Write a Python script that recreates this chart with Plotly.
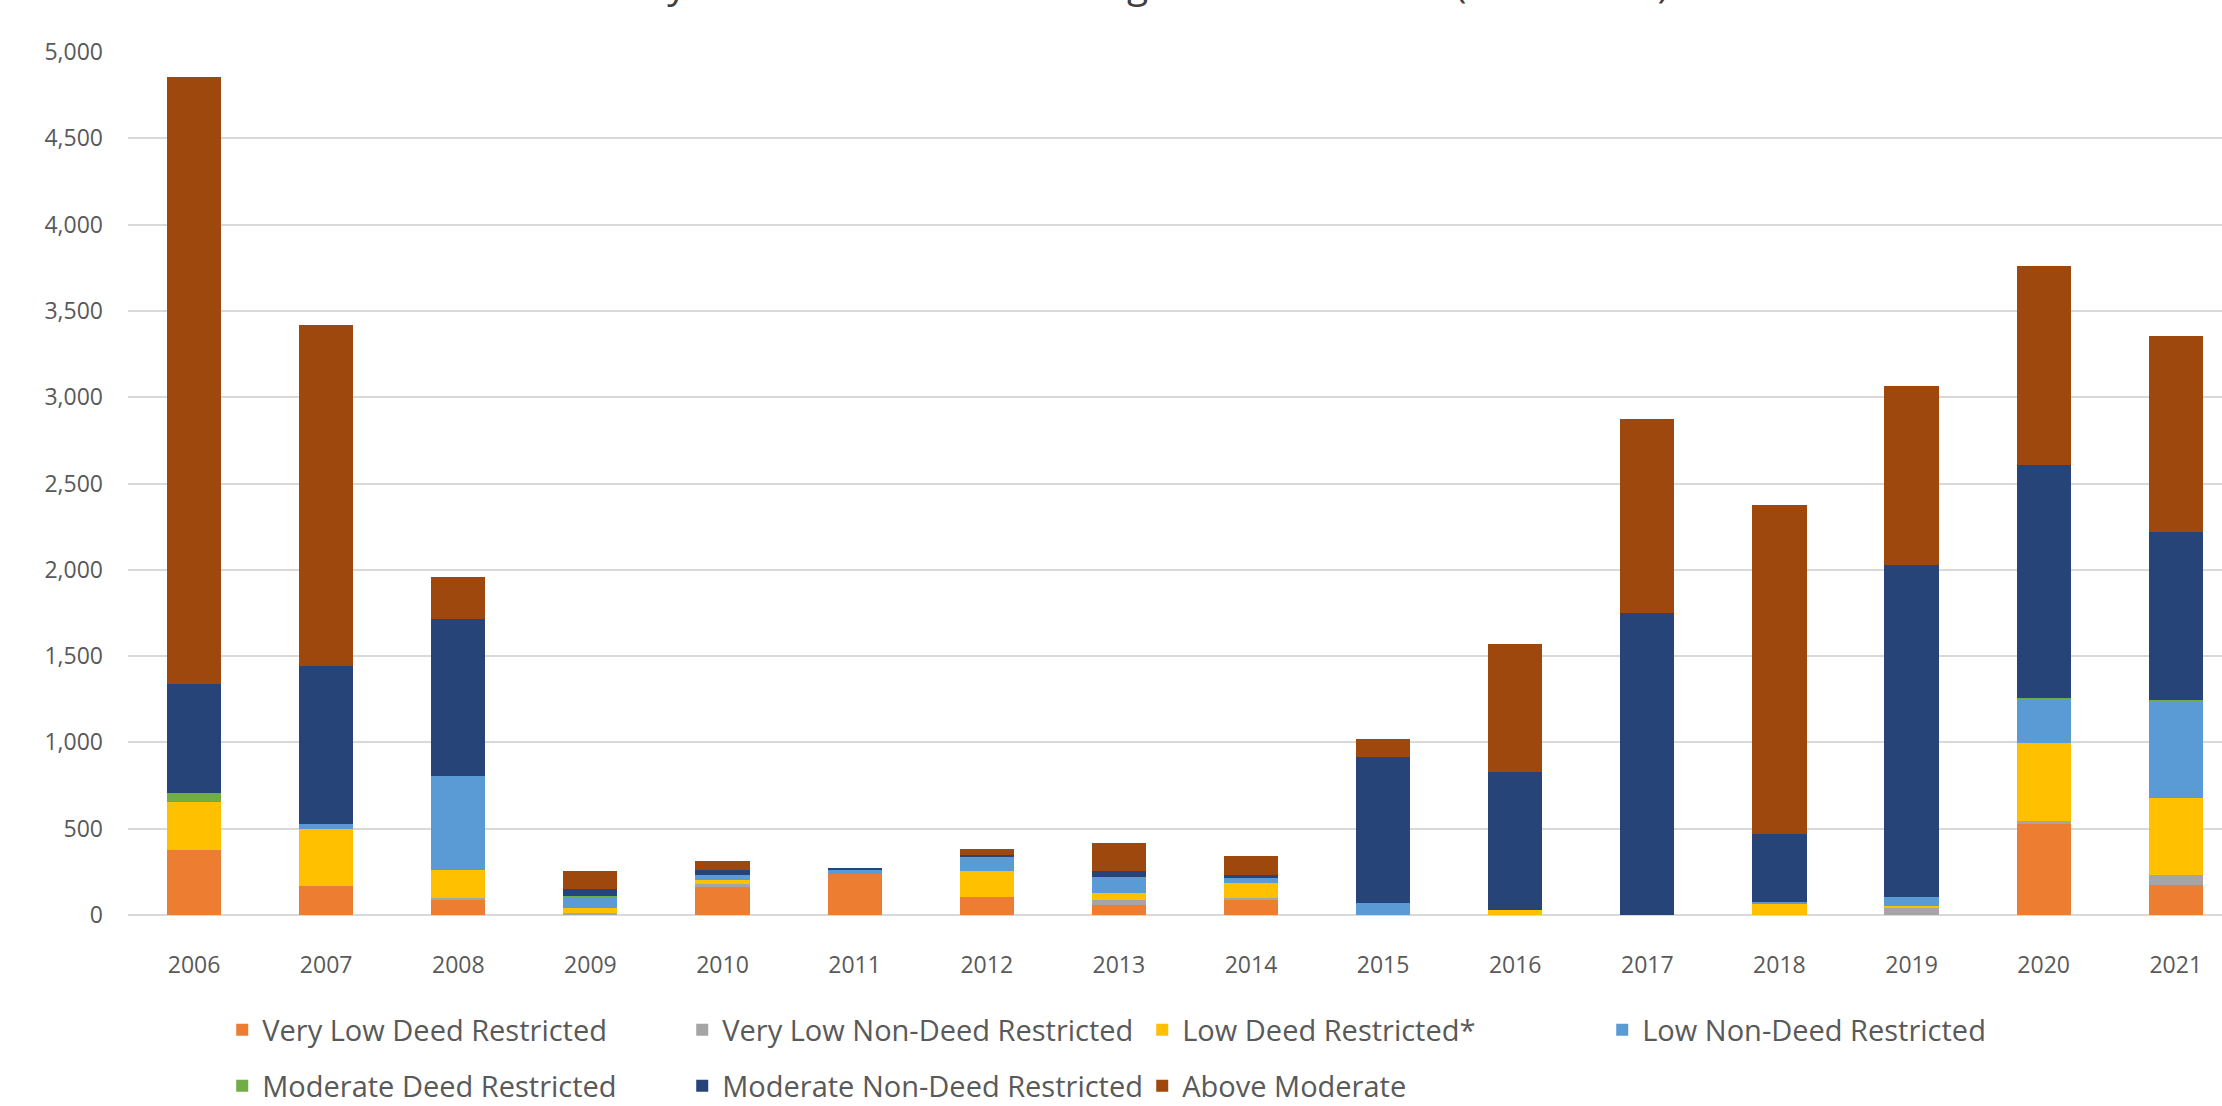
import plotly.graph_objects as go

years = ["2006", "2007", "2008", "2009", "2010", "2011", "2012", "2013",
         "2014", "2015", "2016", "2017", "2018", "2019", "2020", "2021"]

very_low_deed = [377, 170, 85, 5, 160, 240, 105, 58, 90, 0, 0, 0, 0, 0, 527, 174]
very_low_non_deed = [0, 0, 15, 5, 20, 0, 0, 30, 8, 0, 0, 0, 0, 39, 19, 58]
low_deed = [276, 328, 160, 28, 25, 0, 150, 37, 90, 0, 29, 0, 62, 13, 449, 444]
low_non_deed = [0, 27, 548, 68, 28, 20, 80, 92, 25, 68, 0, 0, 15, 54, 260, 562]
moderate_deed = [52, 0, 0, 5, 0, 0, 5, 5, 0, 0, 0, 0, 0, 0, 5, 8]
moderate_non_deed = [633, 915, 907, 39, 28, 15, 10, 31, 20, 849, 801, 1751, 392, 1922, 1347, 975]
above_moderate = [3518, 1978, 244, 106, 52, 0, 30, 162, 106, 101, 738, 1121, 1906, 1039, 1155, 1134]

series = [
    ("Very Low Deed Restricted", very_low_deed, "#ED7D31", "legend"),
    ("Very Low Non-Deed Restricted", very_low_non_deed, "#A5A5A5", "legend"),
    ("Low Deed Restricted*", low_deed, "#FFC000", "legend"),
    ("Low Non-Deed Restricted", low_non_deed, "#5B9BD5", "legend"),
    ("Moderate Deed Restricted", moderate_deed, "#70AD47", "legend2"),
    ("Moderate Non-Deed Restricted", moderate_non_deed, "#264478", "legend2"),
    ("Above Moderate", above_moderate, "#9E480E", "legend2"),
]

title_text = "City of Boulder Total Housing Unit Production (2006-2021)"

FONT = "Open Sans"
TXT = "#595959"

fig = go.Figure()
for name, vals, color, lg in series:
    fig.add_trace(go.Bar(
        x=years, y=vals, name=name, legend=lg,
        marker=dict(color=color, line=dict(width=0)),
    ))

legend_common = dict(
    orientation="h", xanchor="left", yanchor="middle",
    font=dict(family=FONT, size=29, color=TXT),
    entrywidth=415, entrywidthmode="pixels",
    bgcolor="rgba(0,0,0,0)", itemclick=False, itemdoubleclick=False,
    traceorder="normal",
)

fig.update_layout(
    width=2222, height=1106,
    margin=dict(l=128, r=0, t=52, b=191, autoexpand=False),
    barmode="stack", bargap=0.59,
    plot_bgcolor="white", paper_bgcolor="white",
    font=dict(family=FONT, color=TXT),
    showlegend=True,
    legend=dict(x=0.045, y=-0.133, **legend_common),
    legend2=dict(x=0.045, y=-0.198, **legend_common),
    xaxis=dict(
        type="category", range=[-0.5, 15.35],
        showgrid=False, showline=False, ticks="",
        tickfont=dict(family=FONT, size=23, color=TXT),
        ticklabelstandoff=34,
    ),
    yaxis=dict(
        range=[0, 5000], dtick=500, tickformat=",d",
        showgrid=True, gridcolor="#D9D9D9", gridwidth=1.5,
        zeroline=True, zerolinecolor="#D9D9D9", zerolinewidth=1.5,
        showline=False, ticks="",
        tickfont=dict(family=FONT, size=23, color=TXT),
        ticklabelstandoff=24,
    ),
    annotations=[dict(
        text=title_text, xref="paper", yref="paper",
        x=0.485, y=1.047, xanchor="center", yanchor="bottom",
        showarrow=False, font=dict(family=FONT, size=39, color="#404040"),
    )],
)

fig.write_html("out.html")
